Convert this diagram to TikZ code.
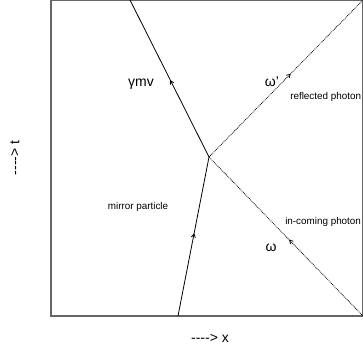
\documentclass[tikz,border=0pt]{standalone}
\usepackage{fontspec}
\setmainfont{Liberation Sans}
\setsansfont{Liberation Sans}
\usetikzlibrary{arrows.meta, decorations.markings, positioning}

\begin{document}
\begin{tikzpicture}[
  x=0.75pt, y=0.75pt,
  font=\sffamily,
  every node/.style={inner sep=0pt},
  frame/.style={draw=black!60, line width=1pt},
  worldline/.style={line width=0.6pt},
  photon/.style={line width=0.6pt, dash pattern=on 0.6pt off 0.7pt},
  midarrow/.style={postaction={decorate}, decoration={markings,
    mark=at position #1 with {\arrow[solid]{Straight Barb[length=2.5pt, width=3pt]}}}},
  biglbl/.style={font=\sffamily\fontsize{10.5}{12}\selectfont},
  smalllbl/.style={font=\sffamily\fontsize{7.4}{9}\selectfont, anchor=west},
]
  \useasboundingbox (0,0) rectangle (363,351);
  \clip (0,0) rectangle (363,351);

  \coordinate (origin) at (51,35);
  \coordinate (corner) at (363,351);
  \coordinate (start) at (178,35);
  \coordinate (event) at (209,194);
  \coordinate (finish) at (130,351);
  \coordinate (source) at (363,35);
  \coordinate (sink) at (363,351);

  \draw[frame] (origin |- corner) |- (corner -| source) -- (source) -- (origin) -- cycle;

  \draw[worldline, midarrow=0.52] (start) -- (event);
  \draw[worldline, midarrow=0.49] (event) -- (finish);
  \draw[photon, midarrow=0.48] (source) -- (event);
  \draw[photon, midarrow=0.53] (event) -- (sink);

  \node[biglbl] (mom) at (141,267) {γmv};
  \node[biglbl] (wout) at (272,269) {ω'};
  \node[biglbl] (win) at (271,103) {ω};
  \node[smalllbl] (refl) at (290,254) {reflected photon};
  \node[smalllbl] (inc) at (285,129) {in-coming photon};
  \node[smalllbl, anchor=center] (mirr) at (138,144) {mirror particle};
  \node[biglbl] (xaxis) at (210,13) {{-}{-}{-}{-}> x};
  \node[biglbl, rotate=90] (taxis) at (15,193) {{-}{-}{-}{-}> t};
\end{tikzpicture}
\end{document}
